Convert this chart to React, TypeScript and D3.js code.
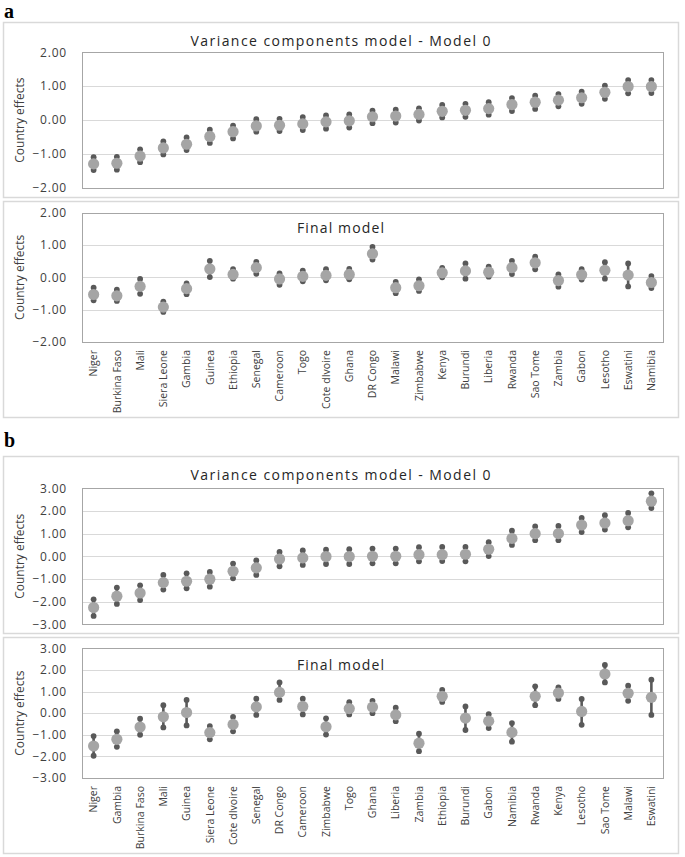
import React from "react";
import * as d3 from "d3";

// ---------- DATA ----------
const countriesA = ["Niger","Burkina Faso","Mali","Siera Leone","Gambia","Guinea","Ethiopia","Senegal","Cameroon","Togo","Cote dIvoire","Ghana","DR Congo","Malawi","Zimbabwe","Kenya","Burundi","Liberia","Rwanda","Sao Tome","Zambia","Gabon","Lesotho","Eswatini","Namibia"];
const a0Est = [-1.29,-1.27,-1.06,-0.82,-0.71,-0.48,-0.34,-0.17,-0.15,-0.11,-0.05,-0.02,0.10,0.12,0.17,0.26,0.29,0.34,0.46,0.53,0.59,0.66,0.82,0.99,0.99];
const a0Hi = [-1.09,-1.08,-0.86,-0.63,-0.51,-0.28,-0.16,0.03,0.04,0.09,0.14,0.17,0.28,0.31,0.35,0.45,0.48,0.53,0.65,0.72,0.77,0.84,1.02,1.18,1.18];
const a0Lo = [-1.47,-1.46,-1.24,-1.01,-0.88,-0.67,-0.54,-0.34,-0.32,-0.29,-0.25,-0.22,-0.09,-0.07,-0.01,0.08,0.10,0.16,0.27,0.33,0.41,0.48,0.63,0.79,0.80];
const aFEst = [-0.53,-0.57,-0.28,-0.92,-0.35,0.26,0.09,0.30,-0.05,0.03,0.06,0.09,0.73,-0.32,-0.26,0.14,0.20,0.16,0.30,0.45,-0.10,0.08,0.22,0.07,-0.16];
const aFHi = [-0.32,-0.38,-0.05,-0.75,-0.19,0.51,0.25,0.48,0.12,0.21,0.25,0.26,0.94,-0.14,-0.06,0.29,0.43,0.33,0.51,0.64,0.09,0.25,0.47,0.43,0.04];
const aFLo = [-0.71,-0.73,-0.51,-1.07,-0.52,0.01,-0.04,0.11,-0.23,-0.12,-0.09,-0.06,0.55,-0.49,-0.42,0.00,-0.04,0.02,0.10,0.25,-0.29,-0.07,-0.04,-0.28,-0.33];

const countriesB = ["Niger","Gambia","Burkina Faso","Mali","Guinea","Siera Leone","Cote dIvoire","Senegal","DR Congo","Cameroon","Zimbabwe","Togo","Ghana","Liberia","Zambia","Ethiopia","Burundi","Gabon","Namibia","Rwanda","Kenya","Lesotho","Sao Tome","Malawi","Eswatini"];
const b0Est = [-2.26,-1.76,-1.62,-1.16,-1.10,-1.01,-0.66,-0.51,-0.12,-0.07,-0.01,-0.01,0.00,0.00,0.07,0.07,0.09,0.31,0.79,1.00,1.00,1.38,1.47,1.57,2.43];
const b0Hi = [-1.90,-1.38,-1.28,-0.82,-0.75,-0.69,-0.32,-0.18,0.19,0.26,0.29,0.31,0.34,0.34,0.40,0.41,0.41,0.62,1.13,1.32,1.34,1.69,1.81,1.91,2.78];
const b0Lo = [-2.63,-2.10,-1.93,-1.47,-1.41,-1.34,-0.97,-0.82,-0.44,-0.38,-0.34,-0.34,-0.31,-0.31,-0.22,-0.21,-0.22,0.01,0.50,0.71,0.71,1.07,1.18,1.28,2.13];
const bFEst = [-1.52,-1.21,-0.64,-0.17,0.03,-0.90,-0.52,0.29,0.96,0.31,-0.63,0.21,0.28,-0.08,-1.39,0.78,-0.23,-0.37,-0.89,0.78,0.93,0.08,1.81,0.92,0.73];
const bFHi = [-1.06,-0.84,-0.26,0.37,0.61,-0.60,-0.17,0.67,1.42,0.67,-0.24,0.51,0.57,0.25,-0.95,1.07,0.31,-0.05,-0.46,1.24,1.19,0.66,2.23,1.27,1.55];
const bFLo = [-1.97,-1.56,-1.00,-0.66,-0.57,-1.21,-0.84,-0.08,0.61,-0.06,-0.99,-0.06,0.00,-0.37,-1.76,0.52,-0.78,-0.69,-1.32,0.37,0.66,-0.54,1.42,0.57,-0.08];

const ticksA = [-2, -1, 0, 1, 2];
const ticksB = [-3, -2, -1, 0, 1, 2, 3];

const titleTop = "Variance components model - Model 0";
const titleBottom = "Final model";
const yTitle = "Country effects";

// ---------- STYLE ----------
const FONT = "'Open Sans', 'Noto Sans', sans-serif";
const TXT = "#404040";
const DARK = "#595959";
const LIGHT = "#a5a5a5";

type PanelProps = {
  boxTop: number; boxBottom: number;
  plotTop: number; plotBottom: number;
  ticks: number[]; cats: string[];
  est: number[]; lo: number[]; hi: number[];
  title: string; titleY: number; titleW: number;
  showLabels: boolean;
};

const BOX_L = 3, BOX_R = 678, PLOT_L = 82, PLOT_R = 663;

function Panel(p: PanelProps) {
  const x = d3.scaleBand<string>().domain(p.cats).range([PLOT_L, PLOT_R]);
  const y = d3.scaleLinear()
    .domain([d3.min(p.ticks)!, d3.max(p.ticks)!])
    .range([p.plotBottom, p.plotTop]);
  const fmt = d3.format(".2f");
  const midY = (p.plotTop + p.plotBottom) / 2;
  return (
    <g>
      <rect x={BOX_L + 0.5} y={p.boxTop + 0.5} width={BOX_R - BOX_L} height={p.boxBottom - p.boxTop}
        fill="#fff" stroke="#d9d9d9" strokeWidth={1.5} />
      {p.ticks.map((t) => (
        <line key={"g" + t} x1={PLOT_L} x2={PLOT_R} y1={Math.round(y(t)) + 0.5} y2={Math.round(y(t)) + 0.5}
          stroke="#d9d9d9" strokeWidth={1} />
      ))}
      <rect x={PLOT_L + 0.5} y={Math.round(p.plotTop) + 0.5} width={PLOT_R - PLOT_L}
        height={Math.round(p.plotBottom) - Math.round(p.plotTop)} fill="none" stroke="#a6a6a6" strokeWidth={1} />
      {p.ticks.map((t) => (
        <text key={"t" + t} x={67} y={y(t)} dy="0.35em" textAnchor="end" fontSize={12}
          letterSpacing={0.8} fill={TXT} fontFamily={FONT}>{fmt(t)}</text>
      ))}
      <text transform={`translate(24,${midY}) rotate(-90)`} textAnchor="middle" fontSize={12}
        fill={TXT} fontFamily={FONT}>{yTitle}</text>
      <text x={(BOX_L + BOX_R) / 2} y={p.titleY} dy="0.35em" textAnchor="middle" fontSize={14}
        fill="#262626" fontFamily={FONT} textLength={p.titleW} lengthAdjust="spacing">{p.title}</text>
      {p.cats.map((c, i) => {
        const cx = x(c)! + x.bandwidth() / 2;
        return (
          <g key={c}>
            <line x1={cx} x2={cx} y1={y(p.hi[i])} y2={y(p.lo[i])} stroke={DARK} strokeWidth={2.6} />
            <circle cx={cx} cy={y(p.hi[i])} r={2.9} fill={DARK} />
            <circle cx={cx} cy={y(p.lo[i])} r={2.9} fill={DARK} />
            <circle cx={cx} cy={y(p.est[i])} r={5.6} fill={LIGHT} />
          </g>
        );
      })}
      {p.showLabels && p.cats.map((c) => {
        const cx = x(c)! + x.bandwidth() / 2;
        return (
          <text key={"l" + c} transform={`translate(${cx},${p.plotBottom + 8}) rotate(-90)`}
            dy="0.35em" textAnchor="end" fontSize={10.5} fill={TXT} fontFamily={FONT}>{c}</text>
        );
      })}
    </g>
  );
}

export default function App() {
  return (
    <svg width={685} height={857} style={{ position: "absolute", left: 0, top: 0, background: "#fff" }}>
      <rect x={0} y={0} width={685} height={857} fill="#fff" />
      <text x={4} y={18} fontSize={20} fontWeight="bold" fontFamily="'Liberation Serif', 'DejaVu Serif', serif" fill="#000">a</text>
      <Panel boxTop={22} boxBottom={197} plotTop={52.3} plotBottom={188} ticks={ticksA} cats={countriesA}
        est={a0Est} lo={a0Lo} hi={a0Hi} title={titleTop} titleY={41} titleW={300} showLabels={false} />
      <Panel boxTop={201} boxBottom={417} plotTop={212.7} plotBottom={342} ticks={ticksA} cats={countriesA}
        est={aFEst} lo={aFLo} hi={aFHi} title={titleBottom} titleY={228} titleW={87} showLabels={true} />
      <text x={4} y={447} fontSize={20} fontWeight="bold" fontFamily="'Liberation Serif', 'DejaVu Serif', serif" fill="#000">b</text>
      <Panel boxTop={456} boxBottom={633} plotTop={488.3} plotBottom={624.3} ticks={ticksB} cats={countriesB}
        est={b0Est} lo={b0Lo} hi={b0Hi} title={titleTop} titleY={475} titleW={300} showLabels={false} />
      <Panel boxTop={637} boxBottom={853} plotTop={648.3} plotBottom={778} ticks={ticksB} cats={countriesB}
        est={bFEst} lo={bFLo} hi={bFHi} title={titleBottom} titleY={665} titleW={87} showLabels={true} />
    </svg>
  );
}
